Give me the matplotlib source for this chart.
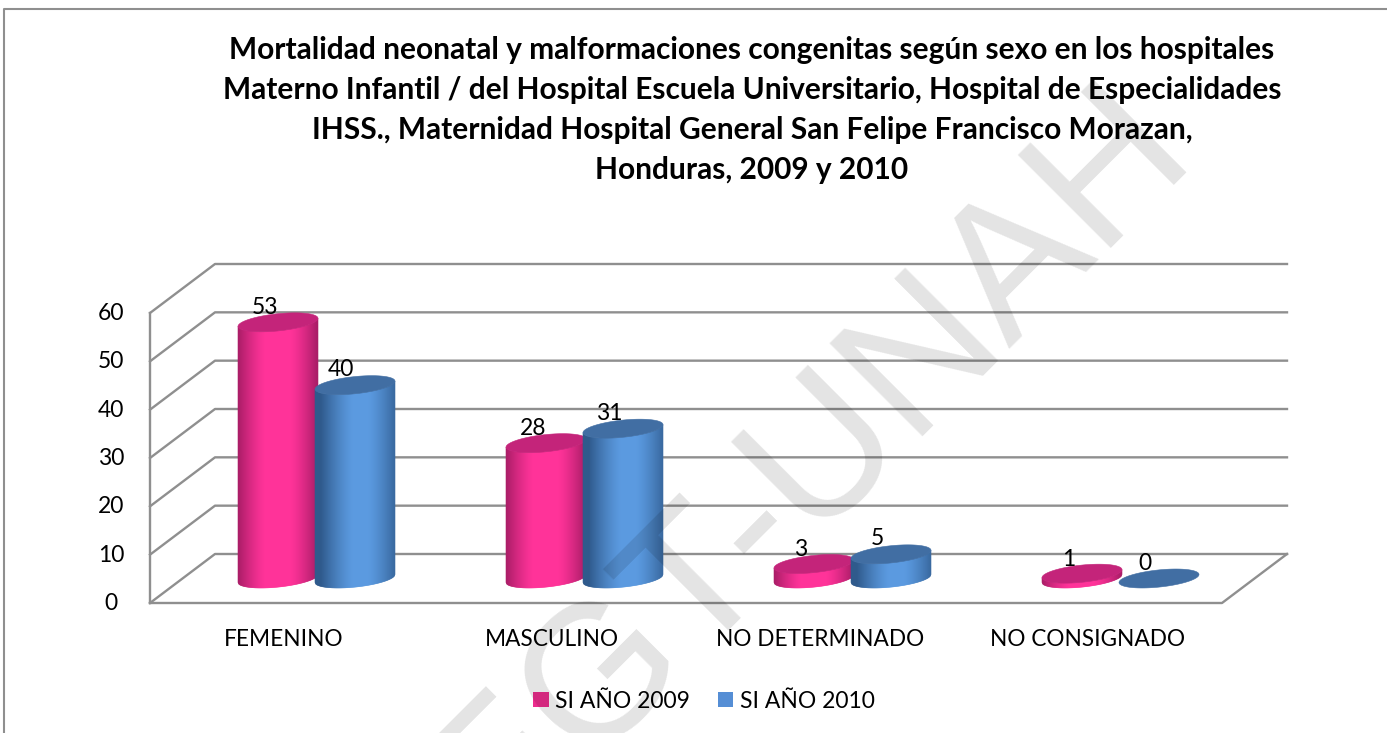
import numpy as np
import matplotlib
matplotlib.use("Agg")
import matplotlib.pyplot as plt
from matplotlib.collections import PolyCollection
from matplotlib.lines import Line2D
from matplotlib.patches import Patch, Polygon
from matplotlib.colors import to_rgb

plt.rcParams['font.family'] = ['Lato', 'DejaVu Sans']

categories = ["FEMENINO", "MASCULINO", "NO DETERMINADO", "NO CONSIGNADO"]
series_names = ["SI AÑO 2009", "SI AÑO 2010"]
values_2009 = [53, 28, 3, 1]
values_2010 = [40, 31, 5, 0]
yticks = [0, 10, 20, 30, 40, 50, 60]
title = ("Mortalidad neonatal y malformaciones congenitas según sexo en los hospitales\n"
         "Materno Infantil / del Hospital Escuela Universitario, Hospital de Especialidades\n"
         "IHSS., Maternidad Hospital General San Felipe Francisco Morazan,\n"
         "Honduras, 2009 y 2010")
watermark = "DEGT-UNAH"

W, H = 1387, 733
fig = plt.figure(figsize=(W / 100, H / 100), dpi=100, facecolor='white')
L, R, B, T = 150, 1222, 603, 313
ax = fig.add_axes([L / W, 1 - B / H, (R - L) / W, (B - T) / H])
ax.set_xlim(0, 4)
ax.set_ylim(0, 60)
ax.axis('off')

px_x = (R - L) / 4      # pixels per category
px_y = (B - T) / 60     # pixels per value unit
dx = 65 / px_x          # depth offset of back wall
dy = 49 / px_y
GRID = '#8f8f8f'
lw = 1.7
FS = 16.5

line = dict(color=GRID, lw=lw, clip_on=False, zorder=1, solid_capstyle='projecting')
for t in yticks:
    ax.plot([0, dx, 4 + dx], [t, t + dy, t + dy], **line)
    ax.text(-0.145, t + 0.5 / px_y - 1 / px_y, str(t), ha='center', va='center', fontsize=FS, color='black')
ax.plot([0, 0], [0, 60], **line)
ax.plot([0, 4, 4 + dx], [0, 0, dy], **line)

sep = 38.5 / px_x
rad = 40 / px_x
kk = 4 / px_y
bb = 8.6 / px_y
us = np.linspace(-1, 1, 81)
us_t = np.linspace(0, 2 * np.pi, 121)


def shade(u, dark, mid, peak=0.0, flat=0.55):
    d = np.clip((np.abs(u - peak) - flat * 0.35) / (1 - flat * 0.35), 0, 1) ** 1.3
    return tuple(np.array(to_rgb(mid)) * (1 - d) + np.array(to_rgb(dark)) * d)


def cylinder(cx, v, dark, mid, top, peak, flat, z):
    base = dy / 2
    xs = cx + rad * us
    front = kk * us - bb * np.sqrt(1 - us ** 2)
    polys, cols = [], []
    if v > 0:
        for i in range(len(us) - 1):
            polys.append([(xs[i], base + front[i]), (xs[i + 1], base + front[i + 1]),
                          (xs[i + 1], base + v + front[i + 1]), (xs[i], base + v + front[i])])
            cols.append(shade((us[i] + us[i + 1]) / 2, dark, mid, peak, flat))
        ax.add_collection(PolyCollection(polys, facecolors=cols, edgecolors=cols,
                                         linewidths=0.4, zorder=z, clip_on=False))
    ex = cx + rad * np.cos(us_t)
    ey = base + v + kk * np.cos(us_t) + bb * np.sin(us_t)
    ax.add_patch(Polygon(np.column_stack([ex, ey]), closed=True, facecolor=top,
                         edgecolor=top, lw=0.4, zorder=z + 0.5, clip_on=False))


label_off = [(-13, 14.5), (-14, 15.5)]
for i, (a, b) in enumerate(zip(values_2009, values_2010)):
    centre = i + 0.5 + dx / 2
    cylinder(centre - sep, a, '#a81c66', '#ff3399', '#c4247a', 0.0, 0.9, 3)
    cylinder(centre + sep, b, '#2f5a8c', '#5b9ae0', '#416ea3', 0.15, 0.55, 4)
    for v, sgn, off in ((a, -1, label_off[0]), (b, 1, label_off[1])):
        ax.text(centre + sgn * sep + off[0] / px_x, dy / 2 + v + off[1] / px_y, str(v),
                ha='center', va='center', fontsize=FS, color='black', zorder=6)
    ax.text(i + 0.5, -36 / px_y, categories[i], ha='center', va='center',
            fontsize=16.3, color='black')

fig.text(752 / W, 1 - 110 / H, title, ha='center', va='center', fontsize=21.5,
         fontweight='bold', linespacing=1.51, color='black')

handles = [Patch(facecolor='#ec2d8e', linewidth=0, label=series_names[0]),
           Patch(facecolor='#558ed5', linewidth=0, label=series_names[1])]
fig.legend(handles=handles, loc='center', bbox_to_anchor=(704 / W, 1 - 701 / H), ncol=2,
           frameon=False, fontsize=FS, handlelength=0.66, handleheight=0.66,
           handletextpad=0.27, columnspacing=1.25)

fig.add_artist(Line2D([3.5 / W, 3.5 / W, 1], [0, 1 - 8.5 / H, 1 - 8.5 / H],
                      color='#8f8f8f', lw=1.5))

fig.text(1194 / W, 1 - 150 / H, watermark, rotation=45, rotation_mode='anchor',
         ha='right', va='baseline', fontsize=138, family='Liberation Sans',
         color='black', alpha=0.11, zorder=20)

fig.savefig('out.png', dpi=100)
